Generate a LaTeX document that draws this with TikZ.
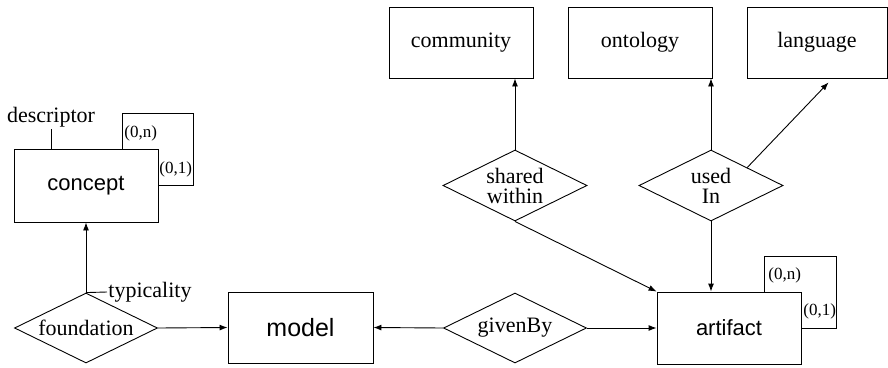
\documentclass[tikz,border=0pt]{standalone}
\usepackage{fontspec}
\setmainfont{Liberation Serif}
\setsansfont{Liberation Sans}
\usepackage{tikz}
\usetikzlibrary{shapes,arrows.meta,positioning,calc}

\tikzset{
    entity/.style={rectangle, draw=black, minimum width=144pt, minimum height=71pt, inner sep=0pt, text centered},
    relation/.style={diamond, aspect=2, draw=black, minimum width=143pt, minimum height=70pt, inner sep=0pt, align=center},
    card/.style={inner sep=0pt, font=\fontsize{17}{17}\selectfont},
}

\begin{document}
\begin{tikzpicture}[x=1pt, y=-1pt, line width=0.9pt, >={Latex[length=8pt,width=6pt]},
    font=\fontsize{22}{20}\selectfont]
    \useasboundingbox (0,0) rectangle (888,367);
    \node (concept) [entity, minimum height=73pt, font=\sffamily\fontsize{22}{22}\selectfont] at (86,185.5) {concept};
    \node (model) [entity, minimum width=145pt, font=\sffamily\fontsize{25}{25}\selectfont] at (300.5,327.5) {model};
    \node (artifact) [entity, minimum height=72pt, font=\sffamily\fontsize{22}{22}\selectfont] at (729,328) {artifact};
    \node (community) [entity] at (461,42.5) {community};
    \node (ontology) [entity] at (640,42.5) {ontology};
    \node (language) [entity, minimum width=140pt] at (817,42.5) {language};
    \node (foundation) [relation] at (86,328) {foundation};
    \node (givenBy) [relation] at (515,328) {givenBy};
    \node (sharedWithin) [relation, minimum width=144pt, minimum height=71pt] at (515,185.5) {shared\\within};
    \node (usedIn) [relation, minimum width=144pt, minimum height=71pt] at (711,185.5) {used\\In};
    \node (descriptor) [inner sep=2pt] at (51,117) {descriptor};
    \node (typicality) [anchor=west, inner sep=1pt] at (107,292) {typicality};

    % attributes
    \draw (descriptor.south) -- (descriptor.south |- concept.north);
    \draw (foundation.north) -- (typicality.west);

    % recursive links
    \draw ([xshift=-36pt]concept.north east) |- ([xshift=35pt,yshift=35pt]concept.north east) |- (concept.east);
    \node (conceptN) [card, anchor=west] at (124,133) {(0,n)};
    \node (conceptOne) [card, anchor=west] at (159,169) {(0,1)};
    \draw ([xshift=-37pt]artifact.north east) |- ([xshift=35pt,yshift=35pt]artifact.north east) |- (artifact.east);
    \node (artifactN) [card, anchor=west] at (768,275) {(0,n)};
    \node (artifactOne) [card, anchor=west] at (803,311) {(0,1)};

    % relations
    \draw [->] (foundation.north) -- (concept.south);
    \draw [->] (foundation.east) -- (model.west);
    \draw [->] (givenBy.west) -- (model.east);
    \draw [->] (givenBy.east) -- (artifact.west);
    \draw [->] (sharedWithin.south) -- (artifact.north west);
    \draw [->] (sharedWithin.north) -- (sharedWithin.north |- community.south);
    \draw [->] (usedIn.south) -- (usedIn.south |- artifact.north);
    \draw [->] (usedIn.north) -- (usedIn.north |- ontology.south);
    \draw [->] (usedIn.north east) -- ([shift={(82,4)}]language.south west);
\end{tikzpicture}
\end{document}
